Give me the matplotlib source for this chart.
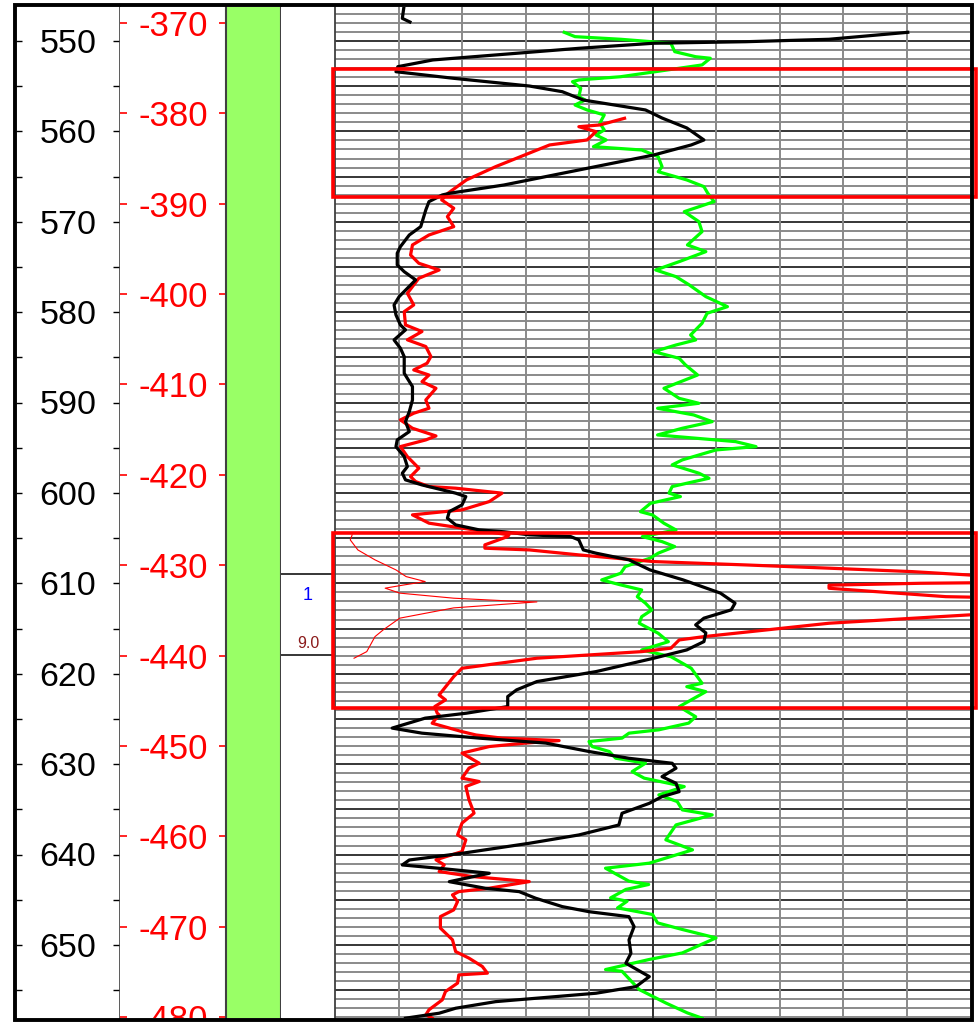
import numpy as np
import matplotlib
matplotlib.use("Agg")
import matplotlib.pyplot as plt
from matplotlib.patches import Rectangle

nan = np.nan

# ---------------- data ----------------
depth_labels = [550, 560, 570, 580, 590, 600, 610, 620, 630, 640, 650]
elev_labels = [-370, -380, -390, -400, -410, -420, -430, -440, -450, -460, -470, -480]
elev_offset = 178.0  # depth = elev_offset - elevation

black_depth = [546.0, 547.5, 547.9, nan,
               549.04, 549.81, 550.08, 550.25, 550.81, 551.55, 552.10, 552.84, 553.40, 554.13,
               554.98, 555.61, 556.53, 557.19, 557.63, 558.52, 559.62, 560.95, 561.50, 562.61,
               564.27, 565.93, 566.84, 567.03, 567.77, 568.69, 570.54, 571.46, 572.75, 573.48,
               574.77, 575.52, 576.43, 577.35, 578.28, 579.20, 580.30, 581.41, 581.96, 583.07,
               583.99, 584.92, 586.76, 588.23, 589.71, 591.00, 592.11, 593.21, 594.13, 594.87,
               595.98, 597.08, 597.81, 598.55, 599.11, 600.02, 600.40, 601.32, 602.06, 602.79,
               603.53, 604.08, 604.30, 604.63, 604.82, 605.19, 606.30, 606.66, 607.40, 608.51,
               609.61, 611.08, 612.19, 612.93, 613.85, 614.59, 615.48, 616.44, 617.36, 618.28,
               619.76, 620.86, 621.78, 622.52, 623.63, 624.36, 624.91, 626.01, 626.57, 627.12,
               627.67, 628.60, 629.35, 629.90, 630.45, 631.38, 632.11, 633.04, 633.59, 634.33,
               635.43, 636.73, 637.83, 638.75, 639.86, 640.60, 641.15, 641.52, 642.07, 643.00,
               643.73, 644.10, 644.83, 645.76, 646.32, 646.87, 647.97, 649.44, 650.92, 652.02,
               653.50, 654.61, 655.34, 656.27, 657.00, 657.55, 658.10]
black_value = [1.09, 1.06, 1.18, nan,
               9.02, 7.78, 6.47, 5.02, 3.84, 2.53, 1.54, 0.99, 0.96, 1.87,
               3.06, 3.58, 3.91, 4.50, 4.89, 5.15, 5.54, 5.81, 5.61, 5.02,
               3.84, 2.66, 1.81, 1.69, 1.48, 1.43, 1.35, 1.17, 1.03, 0.98,
               0.98, 1.09, 1.27, 1.14, 1.01, 0.93, 0.96, 1.03, 1.11, 0.93,
               1.03, 1.09, 1.09, 1.22, 1.22, 1.17, 1.11, 1.17, 0.98, 0.96,
               1.09, 1.14, 1.06, 1.11, 1.37, 1.90, 2.06, 2.00, 1.80, 1.77,
               1.90, 2.27, 2.67, 3.06, 3.71, 3.84, 3.91, 4.11, 4.63, 4.96,
               5.48, 6.07, 6.30, 6.24, 5.81, 5.68, 5.84, 5.81, 5.54, 5.02,
               4.11, 3.18, 2.86, 2.72, 2.72, 2.07, 1.42, 0.90, 1.37, 2.27,
               3.32, 4.00, 4.63, 5.31, 5.37, 5.15, 5.37, 5.42, 5.15, 4.95,
               4.52, 4.47, 3.84, 3.06, 2.00, 1.17, 1.06, 1.64, 2.43, 1.80,
               2.37, 2.90, 3.16, 3.58, 4.00, 4.63, 4.71, 4.63, 4.66, 4.58,
               4.95, 4.74, 4.11, 2.53, 1.90, 1.64, 1.11]

red_depth = [558.55, 559.29, 559.48, 560.03, 560.95, 561.50, 562.80, 563.90, 565.37, 566.84,
             567.58, 568.50, 569.43, 570.54, 571.46, 572.56, 573.67, 574.59, 575.33, 576.25,
             577.91, 579.20, 579.94, 581.41, 582.14, 583.06, 583.80, 584.91, 585.65, 586.39,
             586.95, 587.69, 588.42, 589.71, 590.63, 591.18, 591.92, 592.84, 593.69, 594.13,
             594.87, 595.98, 597.26, 598.19, 598.74, 599.29, 599.47, 600.02, 600.95, 601.87,
             602.42, 603.34, 603.89, 604.63, 604.82, 605.74, 606.11, 606.30, 606.85, 607.59,
             607.96, 608.32, 608.70, 609.07, 609.40, 609.90, 609.99, 610.20, 610.54, 611.47,
             611.60, 613.30, 613.49, 614.41, 615.89, 616.26, 617.17, 617.55, 618.28, 619.39,
             620.31, 622.34, 622.89, 623.63, 624.36, 624.55, 625.47, 626.40, 626.77, 627.12,
             627.39, 627.67, 628.05, 628.78, 629.89, 630.44, 631.55, 631.92, 632.47, 633.94,
             635.42, 636.52, 637.82, 638.37, 639.67, 640.58, 641.14, 641.88, 642.43, 642.99,
             643.72, 644.10, 644.46, 645.20, 646.12, 646.86, 648.14, 649.43, 650.73, 651.46,
             652.38, 653.12, 653.31, 654.22, 655.15, 656.07, 657.17, 657.73, 658.09]
red_value = [4.56, 4.17, 3.84, 4.11, 3.97, 3.38, 2.92, 2.53, 2.07, 1.78,
             1.68, 1.87, 1.77, 1.87, 1.48, 1.22, 1.19, 1.32, 1.64, 1.32,
             1.14, 1.24, 1.09, 1.11, 1.37, 1.14, 1.43, 1.51, 1.45, 1.24,
             1.48, 1.37, 1.59, 1.43, 1.48, 1.24, 1.03, 1.22, 1.59, 1.43,
             1.03, 1.14, 1.32, 1.19, 1.27, 1.48, 1.90, 2.63, 2.43, 2.00,
             1.22, 1.48, 2.00, 2.74, 2.72, 2.36, 2.36, 3.06, 3.84, 5.02,
             6.47, 7.78, 9.09, 9.98, 10.6, 10.6, 9.22, 7.78, 7.78, 9.62,
             10.6, 10.6, 9.98, 7.78, 5.81, 5.42, 5.29, 4.83, 3.18, 2.00,
             1.87, 1.64, 1.74, 1.57, 1.61, 1.64, 1.53, 2.00, 2.22, 2.63,
             3.53, 3.00, 2.43, 2.00, 2.27, 2.11, 2.00, 2.27, 2.06, 2.11,
             2.19, 2.00, 1.93, 2.06, 2.00, 1.59, 1.72, 1.64, 2.16, 3.06,
             2.43, 1.95, 1.85, 1.93, 1.87, 1.66, 1.66, 1.85, 1.90, 2.11,
             2.32, 2.40, 1.95, 1.93, 1.74, 1.69, 1.48, 1.43, 1.53]

thin_red_depth = [604.64, 605.19, 606.30, 607.40, 608.51, 609.25, 609.80, 610.17, 610.53, 611.08,
                  611.64, 612.01, 612.05, 612.71, 613.85, 615.14, 615.89, 617.55, 618.28]
thin_red_value = [0.27, 0.24, 0.36, 0.63, 0.96, 1.12, 1.42, 1.09, 0.79, 1.02,
                  1.87, 2.92, 3.18, 1.87, 1.02, 0.76, 0.63, 0.50, 0.30]

green_depth = [549.04, 549.52, 549.81, 550.25, 551.18, 551.74, 551.91, 552.65, 553.95, 554.31,
               554.50, 555.23, 556.16, 556.53, 557.08, 557.63, 558.18, 559.10, 559.84, 560.40,
               560.95, 561.69, 562.06, 562.80, 563.90, 564.46, 565.37, 566.11, 566.84, 567.77,
               568.88, 569.98, 571.09, 572.56, 573.30, 574.41, 575.33, 576.07, 576.99, 578.28,
               579.39, 580.12, 581.23, 582.52, 583.07, 583.63, 584.37, 585.10, 585.84, 586.95,
               588.42, 589.53, 590.08, 590.63, 591.37, 592.11, 592.84, 593.58, 594.32, 594.87,
               595.24, 596.34, 596.89, 597.81, 598.37, 599.29, 600.02, 600.40, 601.14, 602.07,
               602.43, 603.35, 604.09, 604.83, 605.38, 605.93, 606.66, 607.22, 607.77, 608.15,
               608.88, 609.62, 610.17, 610.73, 611.47, 612.20, 612.94, 613.68, 614.41, 615.52,
               616.45, 617.37, 618.11, 619.39, 621.05, 621.43, 621.98, 623.64, 624.75, 625.46,
               626.20, 626.57, 627.12, 627.50, 628.05, 628.60, 629.34, 629.89, 630.82, 631.55,
               632.48, 633.40, 634.14, 635.06, 635.61, 636.72, 638.37, 639.48, 640.95, 641.51,
               642.95, 643.31, 643.86, 644.79, 645.16, 645.90, 646.63, 647.56, 648.29, 649.22,
               650.88, 651.62, 652.72, 652.91, 654.93, 656.42, 657.52, 658.10]
green_value = [3.61, 3.78, 4.50, 5.29, 5.35, 5.68, 5.91, 5.78, 4.50, 3.84,
               3.74, 3.87, 3.84, 3.94, 3.78, 3.97, 4.24, 4.17, 4.24, 4.11,
               4.27, 4.07, 4.83, 5.09, 5.15, 5.09, 5.54, 5.81, 5.87, 5.97,
               5.50, 5.73, 5.78, 5.55, 5.84, 5.42, 5.05, 5.37, 5.58, 5.84,
               6.18, 5.86, 5.78, 5.60, 5.68, 5.37, 5.02, 5.42, 5.52, 5.71,
               5.18, 5.42, 5.73, 5.08, 5.65, 5.94, 5.47, 5.08, 6.31, 6.63,
               6.00, 5.47, 5.31, 5.73, 5.89, 5.31, 5.26, 5.44, 4.97, 4.81,
               5.00, 5.18, 5.37, 4.84, 5.15, 5.35, 5.09, 4.96, 4.72, 4.57,
               4.50, 4.20, 4.50, 4.83, 4.76, 4.89, 4.99, 4.83, 4.79, 5.09,
               5.25, 4.83, 5.29, 5.61, 5.78, 5.54, 5.84, 5.42, 5.68, 5.57,
               5.10, 4.63, 4.52, 4.00, 4.05, 4.32, 4.42, 4.89, 4.68, 4.87,
               5.50, 5.10, 5.39, 5.47, 5.94, 5.37, 5.21, 5.63, 4.95, 4.26,
               4.63, 4.94, 4.58, 4.34, 4.60, 4.45, 5.00, 5.08, 5.47, 6.00,
               5.47, 4.94, 4.26, 4.52, 4.79, 5.21, 5.55, 5.78]

boxes = [(553.13, 567.22), (604.46, 623.82)]
layer_lines = [608.96, 617.92]
layer_texts = [("1", 611.3, "#0000FF", 13), ("9.0", 616.6, "#8B1A1A", 11.5)]

# ---------------- layout ----------------
W, H = 980, 1022
TOP_PX, BOT_PX = 7, 1018
D_TOP, D_BOT = 546.24, 658.08
FONT = "Liberation Sans"
SPINE = "#404040"
LABEL_SHIFT = 0.37  # small vertical nudge so digits sit centred on ticks

fig = plt.figure(figsize=(W / 100, H / 100), dpi=100)


def track(x0, x1):
    ax = fig.add_axes([x0 / W, 1 - BOT_PX / H, (x1 - x0) / W, (BOT_PX - TOP_PX) / H])
    ax.set_ylim(D_BOT, D_TOP)
    ax.set_xticks([])
    ax.set_yticks([])
    for s in ax.spines.values():
        s.set_visible(False)
    return ax


ax_d = track(16, 120)
ax_e = track(120, 226)
ax_g = track(226, 281)
ax_l = track(281, 335)
ax_log = track(335, 970)

# depth track
ax_d.set_xlim(0, 1)
ax_d.spines["right"].set_visible(True)
ax_d.spines["right"].set_color(SPINE)
ax_d.spines["right"].set_linewidth(1.2)
tick_depths = np.arange(550, 656, 5)
ytr = ax_d.get_yaxis_transform()
ax_d.hlines(tick_depths, 0, 0.055, colors="black", lw=1.0, transform=ytr)
ax_d.hlines(tick_depths, 0.933, 1.0, colors="black", lw=1.0, transform=ytr)
for d in depth_labels:
    ax_d.text(0.5, d + LABEL_SHIFT, str(d), transform=ytr, ha="center", va="center",
              fontsize=24.5, family=FONT, color="black")

# elevation track
ax_e.set_xlim(0, 1)
ytr_e = ax_e.get_yaxis_transform()
for e in elev_labels:
    d = elev_offset - e
    ax_e.hlines([d], 0, 0.066, colors="red", lw=1.2, transform=ytr_e)
    ax_e.hlines([d], 0.934, 1.0, colors="red", lw=1.2, transform=ytr_e)
    t = ax_e.text(0.5, d + LABEL_SHIFT, str(e), transform=ytr_e, ha="center", va="center",
                  fontsize=25, family=FONT, color="red")
    t.set_clip_on(True)

# green lithology column
ax_g.set_facecolor("#99FF66")
for s in ("left", "right"):
    ax_g.spines[s].set_visible(True)
    ax_g.spines[s].set_color(SPINE)
    ax_g.spines[s].set_linewidth(1.5)

# layer label track
ax_l.set_xlim(0, 1)
ax_l.hlines(layer_lines, 0, 1, colors="black", lw=1.1)
for txt, d, c, fs in layer_texts:
    ax_l.text(0.5, d, txt, ha="center", va="center", color=c, fontsize=fs, family=FONT)

# log track grid
ax_log.set_xlim(0, 10)
for d in range(547, 659):
    ax_log.axhline(d, color="black" if d % 5 == 0 else "#8a8a8a",
                   lw=1.1 if d % 5 == 0 else 1.4, zorder=1)
for u in range(1, 10):
    ax_log.axvline(u, color="#303030" if u == 5 else "#8a8a8a", lw=1.4, zorder=1)
ax_log.spines["left"].set_visible(True)
ax_log.spines["left"].set_color(SPINE)
ax_log.spines["left"].set_linewidth(1.3)

ax_log.plot(green_value, green_depth, color="#00FF00", lw=2.3, zorder=3)
ax_log.plot(thin_red_value, thin_red_depth, color="red", lw=0.8, zorder=3)
ax_log.plot(red_value, red_depth, color="red", lw=2.3, zorder=4)
ax_log.plot(black_value, black_depth, color="black", lw=2.3, zorder=5)

for top, bot in boxes:
    ax_log.add_patch(Rectangle((-0.03, top), 10.12, bot - top, fill=False,
                               edgecolor="red", lw=2.6, clip_on=False, zorder=6))

# outer frame
fig.add_artist(Rectangle((14.5 / W, 1 - 1019.5 / H), (972 - 14.5) / W, (1019.5 - 5) / H,
                         transform=fig.transFigure, fill=False, edgecolor="black", lw=2.8))

fig.savefig("out.png", dpi=100, facecolor="white")
